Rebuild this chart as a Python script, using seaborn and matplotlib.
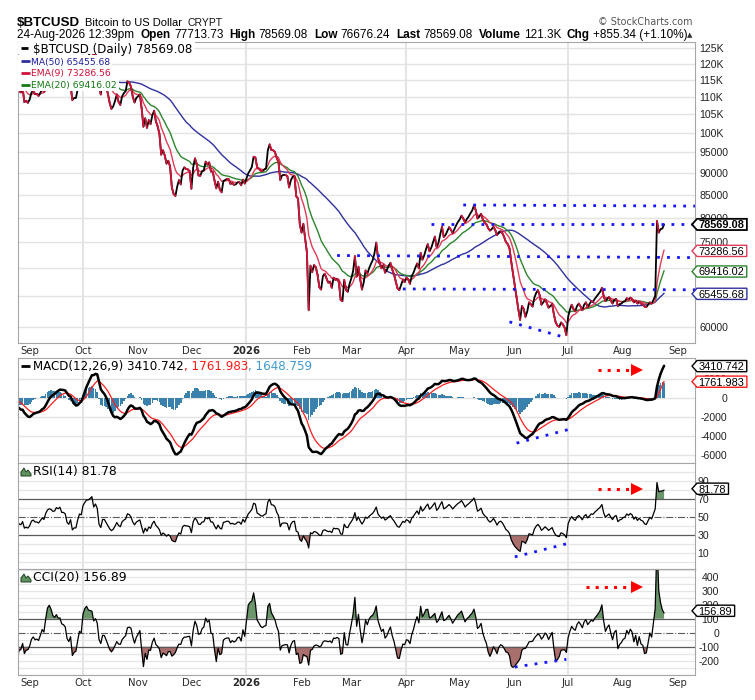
import numpy as np
import pandas as pd
import matplotlib
matplotlib.use("Agg")
import matplotlib.pyplot as plt
import matplotlib.dates as mdates
import matplotlib.ticker as mticker
import seaborn as sns
from matplotlib.patches import Polygon, Rectangle
from matplotlib.lines import Line2D

# ---------------------------------------------------------------- data
# daily closes in thousands of USD.  The warm-up part lies left of the
# visible window and only seeds the moving averages / oscillators.
warmup_close = [
    105.5, 107.1, 104.6, 104.9, 104.6, 103.3, 102.1, 101.0, 105.4, 106.0, 107.3, 106.9, 107.1, 107.3, 108.4, 107.1,
    105.7, 108.8, 109.6, 107.9, 108.2, 109.2, 108.3, 108.9, 111.3, 115.9, 117.5, 117.4, 119.1, 119.8, 117.7, 118.7,
    119.3, 117.9, 117.8, 117.3, 117.4, 119.9, 118.6, 118.3, 117.6, 117.9, 119.4, 118.0, 117.9, 117.8, 115.7,
    113.3, 112.5, 114.2, 115.0, 114.1, 115.0, 117.5, 116.7, 116.5, 119.3, 118.7, 120.2, 123.3, 118.4, 117.4, 117.5,
    117.4, 116.2, 112.9, 114.3, 112.4, 116.9, 115.4, 113.5,
]
close_2025_aug = [110.1, 111.8, 111.2, 112.6, 108.4, 108.8, 108.2]
close_2025_sep = [109.2, 111.2, 111.7, 110.7, 110.7, 110.2, 111.1, 112.1, 111.5, 113.9,
                  115.5, 116.1, 115.9, 115.3, 115.4, 116.8, 116.5, 117.1, 115.7, 115.7,
                  115.3, 112.7, 112.0, 113.3, 109.0, 109.6, 109.6, 112.1, 114.4, 114.1]
close_2025_oct = [118.6, 120.6, 122.3, 122.4, 123.5, 124.8, 121.4, 123.3, 121.7, 113.2,
                  110.6, 115.2, 115.3, 113.1, 110.8, 108.2, 106.5, 107.2, 108.7, 110.6,
                  108.5, 107.6, 110.1, 111.0, 111.6, 114.5, 114.1, 112.9, 110.0, 108.3, 109.6]
close_2025_nov = [110.1, 110.6, 106.6, 101.6, 103.9, 101.3, 103.4, 102.3, 104.7, 106.0,
                  103.1, 101.7, 99.7, 94.4, 95.5, 94.2, 92.2, 92.9, 91.5, 86.6,
                  85.1, 84.7, 86.8, 88.3, 87.3, 90.5, 91.3, 90.9, 90.8, 90.4]
close_2025_dec = [86.3, 91.3, 93.5, 92.1, 89.4, 89.3, 90.4, 90.6, 92.7, 92.0,
                  92.5, 90.3, 90.3, 88.2, 86.4, 87.9, 86.1, 85.5, 88.1, 88.3,
                  88.6, 88.5, 87.4, 87.6, 87.2, 87.3, 87.8, 87.8, 87.1, 88.4, 87.5]
close_2026_jan = [88.7, 89.9, 90.6, 91.4, 93.9, 93.7, 91.3, 91.0, 90.5, 90.4,
                  90.8, 91.1, 95.5, 97.0, 95.6, 95.5, 95.1, 93.6, 92.6, 88.3,
                  89.4, 89.5, 89.5, 89.2, 86.6, 88.3, 89.1, 89.2, 84.6, 84.1, 78.6]
close_2026_feb = [76.9, 78.7, 75.7, 73.0, 62.7, 70.5, 69.3, 70.6, 70.2, 68.8,
                  66.6, 66.2, 68.6, 69.0, 68.2, 67.4, 67.6, 66.5, 68.3, 67.9,
                  68.0, 67.5, 64.4, 64.2, 67.9, 66.1, 65.8, 67.2]
close_2026_mar = [68.2, 69.5, 72.3, 68.5, 70.3, 68.0, 66.2, 67.5, 69.6, 69.0,
                  70.0, 70.8, 71.5, 72.8, 74.9, 72.0, 70.9, 70.0, 70.6, 69.2,
                  69.7, 70.5, 71.0, 69.8, 68.9, 67.6, 66.4, 66.1, 67.0, 67.9, 67.5]
close_2026_apr = [68.3, 68.0, 67.2, 68.6, 69.2, 70.1, 70.9, 70.0, 72.9, 71.6,
                  72.4, 73.6, 74.6, 73.2, 73.9, 75.0, 76.1, 74.0, 74.8, 76.5,
                  78.1, 76.0, 76.4, 77.2, 78.0, 77.5, 76.8, 77.6, 78.4, 79.1]
close_2026_may = [79.6, 80.4, 79.8, 79.0, 79.7, 80.2, 80.9, 81.5, 82.6, 81.6,
                  79.8, 80.2, 80.8, 79.6, 79.0, 78.6, 77.8, 77.3, 77.6, 78.1,
                  77.4, 76.4, 77.0, 77.2, 76.8, 76.0, 75.0, 74.6, 73.8, 71.2, 69.0]
close_2026_jun = [66.8, 64.9, 62.8, 61.1, 63.4, 62.9, 61.6, 62.5, 64.0, 63.7,
                  63.3, 64.8, 65.6, 66.1, 65.2, 63.6, 64.0, 64.5, 63.9, 63.1,
                  63.4, 63.7, 62.0, 60.7, 60.2, 60.0, 60.7, 60.4, 59.9, 58.7]
close_2026_jul = [61.6, 62.8, 63.6, 62.9, 62.5, 63.4, 63.8, 63.3, 62.7, 63.6,
                  64.0, 63.2, 63.7, 64.2, 64.1, 64.6, 65.0, 65.4, 65.8, 66.5,
                  65.1, 64.2, 64.6, 64.9, 64.3, 63.8, 64.4, 64.6, 63.4, 63.7, 63.8]
close_2026_aug = [64.1, 64.2, 64.7, 64.5, 64.8, 64.6, 64.0, 64.3, 63.8, 64.1,
                  63.8, 63.7, 63.3, 63.2, 63.6, 64.0, 63.8, 64.4, 65.1, 79.3,
                  76.9, 77.6, 77.71373, 78.56908]

# values printed in the chart's labels
price_last, ma50_last, ema9_last, ema20_last = 78569.08, 65455.68, 73286.56, 69416.02
macd_last, signal_last, hist_last = 3410.742, 1761.983, 1648.759
rsi_last, cci_last = 81.78, 156.89

header_symbol = "$BTCUSD"
header_name = "Bitcoin to US Dollar"
header_exch = "CRYPT"
header_stats = [("24-Aug-2026 12:39pm", "normal"), ("Open", "bold"), ("77713.73", "normal"),
                ("High", "bold"), ("78569.08", "normal"), ("Low", "bold"), ("76676.24", "normal"),
                ("Last", "bold"), ("78569.08", "normal"), ("Volume", "bold"), ("121.3K", "normal"),
                ("Chg", "bold"), ("+855.34 (+1.10%)", "normal")]

month_ticks = ["2025-09-01", "2025-10-01", "2025-11-01", "2025-12-01", "2026-01-01", "2026-02-01",
               "2026-03-01", "2026-04-01", "2026-05-01", "2026-06-01", "2026-07-01", "2026-08-01",
               "2026-09-01"]
month_labels = ["Sep", "Oct", "Nov", "Dec", "2026", "Feb", "Mar", "Apr", "May", "Jun", "Jul", "Aug", "Sep"]
quarter_lines = ["2025-10-01", "2026-01-01", "2026-04-01", "2026-07-01"]
price_ticks = [60000, 65000, 70000, 75000, 80000, 85000, 90000, 95000,
               100000, 105000, 110000, 115000, 120000, 125000]
# 65000 and 70000 sit fully behind the value boxes in the reference
price_tick_labels = ["60000", "", "", "75000", "80000", "85000", "90000", "95000",
                     "100K", "105K", "110K", "115K", "120K", "125K"]
macd_ticks = [-6000, -4000, -2000, 0, 2000]
rsi_ticks = [10, 30, 50, 70, 90]
cci_ticks = [-200, -100, 0, 100, 200, 300, 400]

# hand-drawn annotations (start date, start value, end date, end value)
price_dotted = [("2026-05-03", 82700, "2026-09-14", 82450),
                ("2026-04-15", 78600, "2026-09-14", 78600),
                ("2026-02-21", 72400, "2026-09-14", 72000),
                ("2026-03-30", 66300, "2026-09-14", 66150),
                ("2026-05-29", 60800, "2026-06-30", 58300)]
macd_dotted = [("2026-06-02", -4740, "2026-07-02", -3260)]
rsi_dotted = [("2026-06-01", 6, "2026-07-01", 21)]
cci_dotted = [("2026-06-01", -245, "2026-06-30", -190)]
# red arrows: dotted start, dotted end, head centre, level
macd_arrow = ("2026-07-18", "2026-08-05", "2026-08-09", 2995)
rsi_arrow = ("2026-07-18", "2026-08-05", "2026-08-09", 82)
cci_arrow = ("2026-07-11", "2026-08-03", "2026-08-09", 330)

# ---------------------------------------------------------------- styles
C_MA50, C_EMA9, C_EMA20 = "#30309e", "#e03c58", "#2d852d"
C_DOWN, C_HIST, C_SIG = "#d2143a", "#3a82ad", "#ff1e1e"
C_BLUE_DOT, C_RED = "#1515ff", "#ff0000"
C_GREEN_FILL, C_RED_FILL = "#6b966b", "#a86f6d"

sns.set_theme(style="white")
plt.rcParams["font.family"] = ["DejaVu Sans"]

W, H = 755, 700
fig = plt.figure(figsize=(W / 100, H / 100), dpi=100)
fig.patch.set_facecolor("white")
renderer = fig.canvas.get_renderer()


def fx(x):
    return x / W


def fy(y):
    return 1 - y / H


L, R = 17.5, 695.0


def add_panel(top, bottom):
    return fig.add_axes([fx(L), fy(bottom), (R - L) / W, (bottom - top) / H])


ax_p = add_panel(42, 343)
ax_m = add_panel(357.5, 462.5)
ax_r = add_panel(462.5, 568.5)
ax_c = add_panel(568.5, 675)

# ---------------------------------------------------------------- indicators
all_close = (warmup_close + close_2025_aug + close_2025_sep + close_2025_oct + close_2025_nov +
             close_2025_dec + close_2026_jan + close_2026_feb + close_2026_mar + close_2026_apr +
             close_2026_may + close_2026_jun + close_2026_jul + close_2026_aug)
dates = pd.date_range(end="2026-08-24", periods=len(all_close), freq="D")
close = pd.Series(np.asarray(all_close) * 1000.0, index=dates)

ma50 = close.rolling(50).mean()
ema9 = close.ewm(span=9, adjust=False).mean()
ema20 = close.ewm(span=20, adjust=False).mean()
macd = close.ewm(span=12, adjust=False).mean() - close.ewm(span=26, adjust=False).mean()
signal = macd.ewm(span=9, adjust=False).mean()
hist = macd - signal
delta = close.diff()
up = delta.clip(lower=0).ewm(alpha=1 / 14, adjust=False).mean()
dn = (-delta.clip(upper=0)).ewm(alpha=1 / 14, adjust=False).mean()
rsi = 100 - 100 / (1 + up / dn)
sma20 = close.rolling(20).mean()
mad = close.rolling(20).apply(lambda a: np.abs(a - a.mean()).mean(), raw=True)
cci = (close - sma20) / (0.015 * mad)

df = pd.DataFrame({"x": mdates.date2num(dates), "close": close.values, "ma50": ma50.values,
                   "ema9": ema9.values, "ema20": ema20.values, "macd": macd.values,
                   "signal": signal.values, "hist": hist.values, "rsi": rsi.values, "cci": cci.values})
df = df[dates >= pd.Timestamp("2025-08-20")].reset_index(drop=True)

rows = []
cv, xv = df["close"].values, df["x"].values
for i in range(1, len(df)):
    if cv[i] < cv[i - 1]:
        rows.append((i, xv[i - 1], cv[i - 1]))
        rows.append((i, xv[i], cv[i]))
down = pd.DataFrame(rows, columns=["seg", "x", "price"])


def dnum(s):
    return mdates.date2num(pd.Timestamp(s))


x_lo = dnum("2025-09-01") - 6.87
x_hi = dnum("2025-09-01") + 374.4
mt = [dnum(m) for m in month_ticks]

# ---------------------------------------------------------------- price panel
ax = ax_p
for q in quarter_lines:
    ax.axvline(dnum(q), color="#dcdcdc", lw=1.1, zorder=0)
sns.lineplot(data=df, x="x", y="ma50", ax=ax, color=C_MA50, lw=1.0, estimator=None)
sns.lineplot(data=df, x="x", y="ema20", ax=ax, color=C_EMA20, lw=1.0, estimator=None)
sns.lineplot(data=df, x="x", y="ema9", ax=ax, color=C_EMA9, lw=1.0, estimator=None)
sns.lineplot(data=df, x="x", y="close", ax=ax, color="black", lw=1.3, estimator=None)
sns.lineplot(data=down, x="x", y="price", units="seg", estimator=None, ax=ax, color=C_DOWN, lw=1.3)
for a, va, b, vb in price_dotted:
    ax.plot([dnum(a), dnum(b)], [va, vb], color=C_BLUE_DOT, lw=2.0, linestyle=(0, (1, 2.6)), zorder=5)
ax.set_yscale("log")
ax.set_ylim(57510, 126990)
ax.set_yticks(price_ticks, price_tick_labels, fontsize=7.6, family="Liberation Sans", color="#222222")
ax.yaxis.set_minor_locator(mticker.NullLocator())
ax.yaxis.set_minor_formatter(mticker.NullFormatter())
ax.yaxis.tick_right()
ax.tick_params(axis="y", which="both", length=0, pad=3)
ax.grid(True, axis="y", which="major", color="#e3e3e3", lw=1.0)

# ---------------------------------------------------------------- MACD panel
ax = ax_m
for q in quarter_lines:
    ax.axvline(dnum(q), color="#dcdcdc", lw=1.1, zorder=0)
ax.bar(df["x"], df["hist"], width=0.9, color=C_HIST, lw=0, zorder=2)
sns.lineplot(data=df, x="x", y="signal", ax=ax, color=C_SIG, lw=0.9, estimator=None)
sns.lineplot(data=df, x="x", y="macd", ax=ax, color="black", lw=1.8, estimator=None)
for a, va, b, vb in macd_dotted:
    ax.plot([dnum(a), dnum(b)], [va, vb], color=C_BLUE_DOT, lw=2.0, linestyle=(0, (1, 2.6)), zorder=5)
ax.set_ylim(-6790, 4320)
ax.set_yticks(macd_ticks, [str(t) for t in macd_ticks], fontsize=7.6, family="Liberation Sans",
              color="#222222", ha="right")
ax.yaxis.tick_right()
ax.tick_params(axis="y", length=0, pad=23)
ax.grid(True, axis="y", color="#e3e3e3", lw=1.0)

# ---------------------------------------------------------------- RSI panel
ax = ax_r
for q in quarter_lines:
    ax.axvline(dnum(q), color="#dcdcdc", lw=1.1, zorder=0)
for g in range(0, 110, 10):
    if g not in (30, 50, 70):
        ax.axhline(g, color="#e6e6e6", lw=0.9, zorder=0)
xr_, rr_ = df["x"].values, df["rsi"].values
ax.fill_between(xr_, rr_, 70, where=rr_ > 70, interpolate=True, color=C_GREEN_FILL, lw=0, zorder=1)
ax.fill_between(xr_, rr_, 30, where=rr_ < 30, interpolate=True, color=C_RED_FILL, lw=0, zorder=1)
ax.axhline(70, color="#5a5a5a", lw=0.9, zorder=1)
ax.axhline(30, color="#5a5a5a", lw=0.9, zorder=1)
ax.axhline(50, color="#5a5a5a", lw=0.8, ls="-.", zorder=1)
sns.lineplot(data=df, x="x", y="rsi", ax=ax, color="black", lw=0.9, estimator=None)
for a, va, b, vb in rsi_dotted:
    ax.plot([dnum(a), dnum(b)], [va, vb], color=C_BLUE_DOT, lw=2.0, linestyle=(0, (1, 2.6)), zorder=5)
ax.set_ylim(-6.9, 110.9)
ax.set_yticks(rsi_ticks, [str(t) for t in rsi_ticks], fontsize=7.6, family="Liberation Sans", color="#222222")
ax.yaxis.tick_right()
ax.tick_params(axis="y", length=0, pad=1.5)

# ---------------------------------------------------------------- CCI panel
ax = ax_c
for q in quarter_lines:
    ax.axvline(dnum(q), color="#dcdcdc", lw=1.1, zorder=0)
for g in range(-300, 460, 50):
    if g not in (-100, 0, 100):
        ax.axhline(g, color="#e6e6e6", lw=0.9, zorder=0)
cc_ = df["cci"].values
ax.fill_between(xr_, cc_, 100, where=cc_ > 100, interpolate=True, color=C_GREEN_FILL, lw=0, zorder=1)
ax.fill_between(xr_, cc_, -100, where=cc_ < -100, interpolate=True, color=C_RED_FILL, lw=0, zorder=1)
ax.axhline(100, color="#5a5a5a", lw=0.9, zorder=1)
ax.axhline(-100, color="#5a5a5a", lw=0.9, zorder=1)
ax.axhline(0, color="#5a5a5a", lw=0.8, ls="-.", zorder=1)
sns.lineplot(data=df, x="x", y="cci", ax=ax, color="black", lw=0.9, estimator=None)
for a, va, b, vb in cci_dotted:
    ax.plot([dnum(a), dnum(b)], [va, vb], color=C_BLUE_DOT, lw=2.0, linestyle=(0, (1, 2.6)), zorder=5)
ax.set_ylim(-302, 459)
ax.set_yticks(cci_ticks, [str(t) for t in cci_ticks], fontsize=7.6, family="Liberation Sans",
              color="#222222", ha="right")
ax.yaxis.tick_right()
ax.tick_params(axis="y", length=0, pad=17.3)

# red arrows
for axx, (a, b, head, lvl) in [(ax_m, macd_arrow), (ax_r, rsi_arrow), (ax_c, cci_arrow)]:
    axx.plot([dnum(a), dnum(b)], [lvl, lvl], color=C_RED, lw=2.2, linestyle=(0, (1, 2)), zorder=6)
    axx.plot([dnum(head)], [lvl], marker=">", ms=9, color=C_RED, mew=0, zorder=6)

# common x axis settings
for i, ax in enumerate([ax_p, ax_m, ax_r, ax_c]):
    ax.set_xlim(x_lo, x_hi)
    ax.set_xlabel("")
    ax.set_ylabel("")
    ax.set_axisbelow(True)
    if i in (0, 3):
        ax.set_xticks(mt, month_labels, fontsize=7.3, color="#2a2a2a")
        ax.get_xticklabels()[4].set_fontweight("bold")
        ax.tick_params(axis="x", length=0, pad=2)
    else:
        ax.set_xticks(mt)
        ax.tick_params(axis="x", length=0, labelbottom=False)
    for sp in ax.spines.values():
        sp.set_color("#a6a6a6")
        sp.set_linewidth(0.8)


# ---------------------------------------------------------------- text helpers
def measure(s, size, **kw):
    t = fig.text(0, 0, s, fontsize=size, **kw)
    w = t.get_window_extent(renderer).width
    t.remove()
    return w


def put_fit(s, x_left, y_base, width, **kw):
    size = 10.0 * width / measure(s, 10.0, **kw)
    t = fig.text(fx(x_left), fy(y_base), s, fontsize=size, ha="left", va="baseline", **kw)
    return t, size


def white_rect(x0, x1, yc, h=12):
    fig.add_artist(Rectangle((fx(x0), fy(yc + h / 2)), (x1 - x0) / W, h / H,
                             transform=fig.transFigure, fc="white", ec="none", zorder=3))


def dash(x0, x1, yc, color):
    fig.add_artist(Line2D([fx(x0), fx(x1)], [fy(yc), fy(yc)], transform=fig.transFigure,
                          color=color, lw=2.0, solid_capstyle="butt", zorder=5))


# ---------------------------------------------------------------- header
put_fit("\\" + header_symbol, 17, 26, 63, family="Liberation Sans", fontweight="bold", color="black")
put_fit(header_name, 85, 26, 97, family="Liberation Sans", color="black")
put_fit(header_exch, 188, 26, 35, family="Liberation Sans", color="#111111")
put_fit("\u00a9 StockCharts.com", 598, 25, 94, family="DejaVu Sans", color="#555555")

gaps = []
for k, (s, wgt) in enumerate(header_stats[:-1]):
    if k == 0:
        gaps.append(0.55)
    elif wgt == "bold":
        gaps.append(0.28)
    else:
        gaps.append(0.5)
w10 = sum(measure(s, 10, family="Liberation Sans", fontweight=wgt) for s, wgt in header_stats)
target = 684 - 17
size = target / (w10 / 10 + sum(gaps) * 100 / 72)
xcur = 17.0
for k, (s, wgt) in enumerate(header_stats):
    t = fig.text(fx(xcur), fy(37.8), s, fontsize=size, family="Liberation Sans", fontweight=wgt,
                 ha="left", va="baseline", color="black")
    bb = t.get_window_extent(renderer)
    if k < len(gaps):
        xcur = bb.x1 + gaps[k] * size * 100 / 72
fig.text(fx(687), fy(37.0), "\u25b2", fontsize=5, color="#333333", ha="left", va="baseline",
         family=["DejaVu Sans"])

# ---------------------------------------------------------------- price legend
legend_rows = [
    ("\\$BTCUSD (Daily) %.2f" % price_last, "black", "black", 52.8, 33, 193, 20.5, 28),
    ("MA(50) %.2f" % ma50_last, "#1c1c9c", C_MA50, 64.6, 31, 110, 21, 30),
    ("EMA(9) %.2f" % ema9_last, "#d0103a", "#d0103a", 76.3, 31, 111, 21, 30),
    ("EMA(20) %.2f" % ema20_last, "#137a13", "#137a13", 88.1, 31, 117, 21, 30),
]
for txt, tc, lc, yb, xt, xe, d0, d1 in legend_rows:
    size = 10.0 * (xe - xt) / measure(txt, 10.0, family="DejaVu Sans")
    cap = 0.73 * size * 100 / 72
    yc = yb - cap / 2
    white_rect(17.6, xe + 1.5, yc, 12)
    fig.text(fx(xt), fy(yb), txt, fontsize=size, family="DejaVu Sans", color=tc,
             ha="left", va="baseline", zorder=4)
    dash(d0, d1, yc, lc)

# ---------------------------------------------------------------- MACD legend
macd_parts = [("MACD(12,26,9) %.3f" % macd_last, "black"), (", %.3f" % signal_last, "#ff1a1a"),
              (", %.3f" % hist_last, "#3d9bd0")]
w10 = sum(measure(s, 10, family="DejaVu Sans") for s, c in macd_parts)
size = 10.0 * (313 - 33) / w10
xcur = 33.0
for s, c in macd_parts:
    t = fig.text(fx(xcur), fy(369.6), s, fontsize=size, family="DejaVu Sans", color=c,
                 ha="left", va="baseline", zorder=4)
    xcur = t.get_window_extent(renderer).x1
dash(21, 30, 366, "black")


# ---------------------------------------------------------------- RSI / CCI legends
def icon(x0, y0):
    pts = [(0, 9), (0, 5), (3, 1), (5, 5), (7, 3), (10, 7), (10, 9)]
    fig.add_artist(Polygon([(fx(x0 + a), fy(y0 + b)) for a, b in pts], closed=True,
                           transform=fig.transFigure, fc="#5f925f", ec="#1e3e1e", lw=0.7, zorder=5))


icon(21, 467)
put_fit("RSI(14) %.2f" % rsi_last, 33, 475.3, 84, family="DejaVu Sans", color="black", zorder=4)
icon(21, 573)
put_fit("CCI(20) %.2f" % cci_last, 33, 581.2, 94, family="DejaVu Sans", color="black", zorder=4)


# ---------------------------------------------------------------- right-hand value boxes
def value_box(ax, yval, txt, ec, bold=False, lw=1.0):
    ypix = ax.transData.transform((ax.get_xlim()[1], yval))[1]
    t = fig.text(698.5 / W, (ypix - 3.9) / H, txt, ha="left", va="baseline", fontsize=7.9,
                 family="Liberation Sans", fontweight="bold" if bold else "normal",
                 color="black", zorder=7)
    bb = t.get_window_extent(renderer)
    xr = bb.x1 + 2.5
    hh = 5.6
    pts = [(692.0, ypix), (697.0, ypix + hh), (xr, ypix + hh), (xr, ypix - hh), (697.0, ypix - hh)]
    fig.add_artist(Polygon([(a / W, b / H) for a, b in pts], closed=True, transform=fig.transFigure,
                           fc="white", ec=ec, lw=lw, zorder=6))


value_box(ax_p, ema9_last, "%.2f" % ema9_last, C_EMA9)
value_box(ax_p, ema20_last, "%.2f" % ema20_last, C_EMA20)
value_box(ax_p, ma50_last, "%.2f" % ma50_last, C_MA50)
value_box(ax_p, price_last, "%.2f" % price_last, "black", bold=True, lw=1.3)
value_box(ax_m, signal_last, "%.3f" % signal_last, "#ff1a1a")
value_box(ax_m, macd_last, "%.3f" % macd_last, "black")
value_box(ax_r, rsi_last, "%.2f" % rsi_last, "black")
value_box(ax_c, cci_last, "%.2f" % cci_last, "black")

fig.savefig("out.png", dpi=100, facecolor="white")
